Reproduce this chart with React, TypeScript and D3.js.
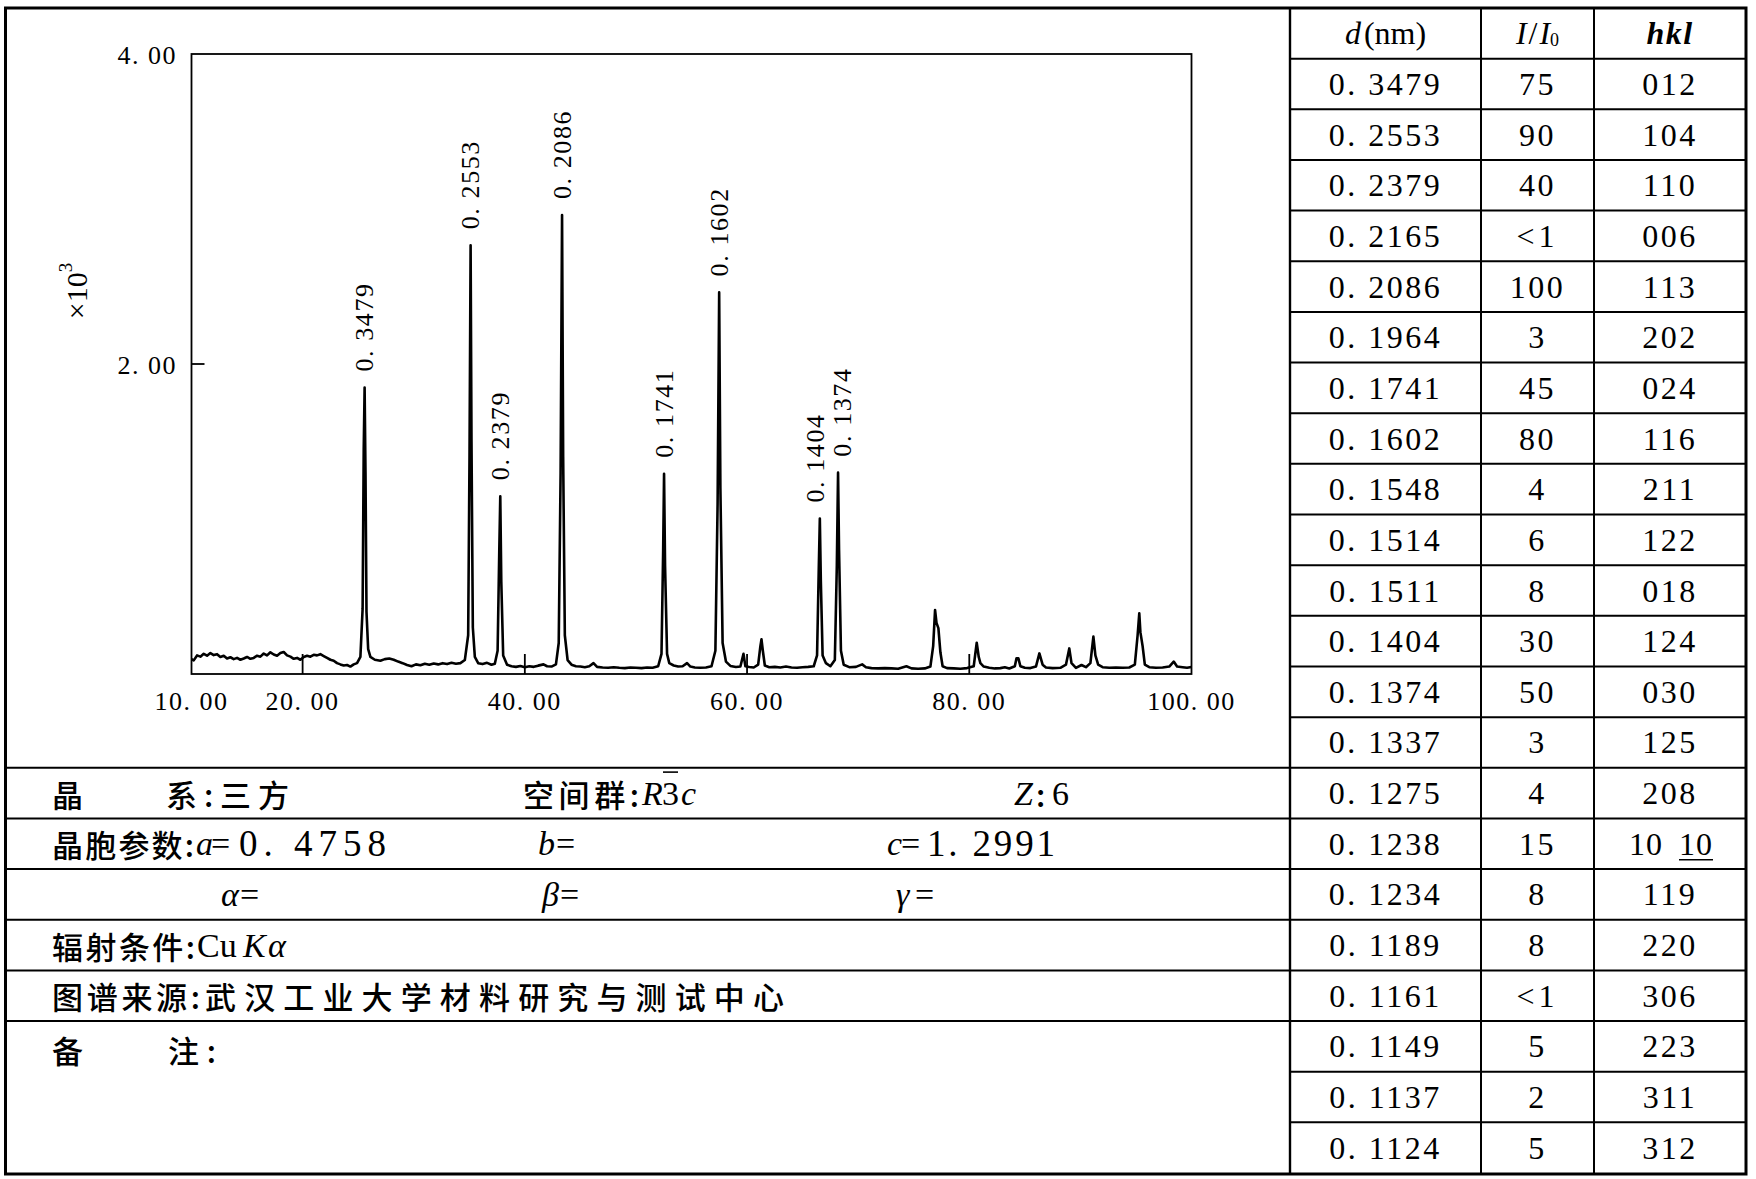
import React from "react";
import * as d3 from "d3";

// ---------- data ----------
const xTickValues = [10, 20, 40, 60, 80, 100];
const xTickLabels = ["10. 00", "20. 00", "40. 00", "60. 00", "80. 00", "100. 00"];
const xInnerTicks = [20, 40, 60, 80];
const yTickValues = [2000, 4000];
const yTickLabels = ["2. 00", "4. 00"];

const peakLabels = ["0. 3479", "0. 2553", "0. 2379", "0. 2086", "0. 1741", "0. 1602", "0. 1404", "0. 1374"];
const peakAngles = [25.58, 35.12, 37.79, 43.35, 52.53, 57.49, 66.55, 68.19];
const peakCounts = [1848, 2766, 1147, 2961, 1292, 2462, 1003, 1299];

// diffraction trace: [2theta, counts]
const pattern: [number, number][] = [
  [10.0, 95], [10.2, 88], [10.5, 120], [10.8, 112], [11.1, 130], [11.4, 118], [11.7, 135], [12.0, 122],
  [12.3, 128], [12.6, 110], [12.9, 118], [13.2, 100], [13.5, 108], [13.8, 96], [14.1, 104], [14.4, 92],
  [14.7, 100], [15.0, 110], [15.3, 98], [15.6, 104], [15.9, 118], [16.2, 112], [16.5, 132], [16.8, 120],
  [17.1, 140], [17.4, 126], [17.7, 118], [18.0, 135], [18.3, 142], [18.6, 120], [18.9, 112], [19.2, 98],
  [19.5, 104], [19.8, 92], [20.1, 110], [20.4, 118], [20.7, 112], [21.0, 124], [21.3, 120], [21.6, 128],
  [21.9, 116], [22.2, 104], [22.5, 92], [22.8, 86], [23.1, 70], [23.4, 62], [23.7, 55], [24.0, 58],
  [24.3, 48], [24.6, 62], [24.9, 70], [25.2, 110], [25.4, 420], [25.5, 1450], [25.58, 1848], [25.66, 1300],
  [25.75, 400], [25.9, 160], [26.1, 110], [26.5, 92], [27.0, 86], [27.4, 96], [27.8, 100], [28.2, 92],
  [28.6, 80], [29.0, 70], [29.4, 58], [29.8, 50], [30.2, 62], [30.6, 56], [31.0, 66], [31.4, 60],
  [31.8, 68], [32.2, 62], [32.6, 70], [33.0, 64], [33.4, 72], [33.8, 66], [34.2, 70], [34.6, 90],
  [34.9, 250], [35.02, 1400], [35.12, 2766], [35.2, 1500], [35.32, 300], [35.5, 110], [35.8, 70], [36.2, 64],
  [36.6, 72], [37.0, 60], [37.3, 66], [37.55, 150], [37.7, 800], [37.79, 1147], [37.88, 600], [38.05, 120],
  [38.4, 60], [38.8, 50], [39.2, 46], [39.6, 52], [40.0, 44], [40.4, 50], [40.8, 46], [41.2, 54],
  [41.68, 62], [42.0, 50], [42.4, 48], [42.8, 62], [43.05, 200], [43.22, 1300], [43.35, 2961], [43.45, 1400],
  [43.6, 250], [43.85, 90], [44.2, 60], [44.6, 50], [45.0, 48], [45.4, 44], [45.8, 50], [46.18, 70],
  [46.5, 46], [47.0, 42], [47.5, 40], [48.0, 44], [48.5, 40], [49.0, 38], [49.5, 42], [50.0, 40],
  [50.5, 38], [51.0, 42], [51.5, 40], [52.0, 50], [52.3, 130], [52.45, 800], [52.53, 1292], [52.62, 700],
  [52.8, 130], [53.0, 70], [53.4, 55], [53.8, 48], [54.2, 50], [54.6, 70], [54.9, 48], [55.3, 42],
  [55.8, 40], [56.3, 42], [56.8, 50], [57.15, 150], [57.35, 1100], [57.49, 2462], [57.6, 1200], [57.8, 200],
  [58.1, 80], [58.5, 52], [59.0, 45], [59.4, 48], [59.68, 130], [59.85, 50], [60.2, 45], [60.6, 42],
  [61.0, 60], [61.2, 180], [61.3, 224], [61.42, 150], [61.6, 55], [62.0, 44], [62.5, 46], [63.0, 42],
  [63.5, 48], [64.0, 42], [64.5, 40], [65.0, 44], [65.5, 46], [66.0, 50], [66.3, 120], [66.46, 700],
  [66.55, 1003], [66.64, 600], [66.8, 120], [67.1, 70], [67.5, 50], [67.9, 90], [68.08, 700], [68.19, 1299],
  [68.28, 800], [68.45, 150], [68.7, 60], [69.2, 44], [69.8, 46], [70.36, 62], [70.7, 44], [71.2, 38],
  [71.8, 36], [72.4, 38], [73.0, 36], [73.6, 34], [74.34, 50], [74.8, 36], [75.4, 34], [76.0, 36],
  [76.5, 48], [76.75, 180], [76.92, 413], [77.05, 330], [77.22, 296], [77.4, 140], [77.6, 50], [78.0, 38],
  [78.6, 36], [79.2, 34], [79.8, 38], [80.4, 50], [80.67, 202], [80.85, 110], [81.0, 70], [81.3, 48],
  [81.8, 40], [82.3, 36], [82.8, 38], [83.2, 44], [83.6, 36], [84.1, 50], [84.25, 101], [84.42, 101],
  [84.6, 50], [85.0, 40], [85.5, 38], [86.0, 48], [86.31, 133], [86.6, 60], [86.9, 42], [87.5, 38],
  [88.2, 40], [88.7, 60], [89.0, 165], [89.2, 70], [89.6, 40], [90.1, 58], [90.5, 44], [90.9, 70],
  [91.17, 241], [91.35, 120], [91.6, 60], [92.0, 44], [92.6, 40], [93.2, 42], [93.8, 40], [94.4, 42],
  [94.9, 60], [95.15, 250], [95.3, 391], [95.4, 270], [95.6, 180], [95.8, 60], [96.2, 44], [96.8, 40],
  [97.4, 42], [98.0, 48], [98.4, 80], [98.7, 48], [99.2, 44], [99.6, 40], [100.0, 45],
];

// table
const dSpacings = ["0. 3479", "0. 2553", "0. 2379", "0. 2165", "0. 2086", "0. 1964", "0. 1741", "0. 1602",
  "0. 1548", "0. 1514", "0. 1511", "0. 1404", "0. 1374", "0. 1337", "0. 1275", "0. 1238", "0. 1234",
  "0. 1189", "0. 1161", "0. 1149", "0. 1137", "0. 1124"];
const intensities = ["75", "90", "40", "<1", "100", "3", "45", "80", "4", "6", "8", "30", "50", "3", "4",
  "15", "8", "8", "<1", "5", "2", "5"];
const hklIndices = ["012", "104", "110", "006", "113", "202", "024", "116", "211", "122", "018", "124",
  "030", "125", "208", "10 10", "119", "220", "306", "223", "311", "312"];

const SERIF = "'Liberation Serif', 'Times New Roman', serif";
const CJK = "'Noto Sans CJK SC', 'Noto Sans CJK JP', sans-serif";

export default function App() {
  const W = 1756;
  const H = 1179;
  const x = d3.scaleLinear().domain([10, 100]).range([191.5, 1191.5]);
  const y = d3.scaleLinear().domain([0, 4000]).range([674, 54]);
  const line = d3.line<[number, number]>().x((d) => x(d[0])).y((d) => y(d[1]));

  const rowY = d3.scaleLinear().domain([0, 23]).range([8, 1173]);
  const tableLeft = 1290;
  const col1 = 1481;
  const col2 = 1594;
  const right = 1746;
  const outerLeft = 5.5;

  // label positions with small nudge for close neighbours
  const labelX = peakAngles.map((a) => x(a));
  for (let i = 0; i < labelX.length - 1; i++) {
    if (labelX[i + 1] - labelX[i] < 24) {
      labelX[i] -= 4.5;
      labelX[i + 1] += 4.5;
    }
  }

  const cjkText = (s: string, x0: number, yy: number, len?: number) => (
    <text x={x0} y={yy} fontFamily={CJK} fontSize={31} fontWeight={500} dominantBaseline="central"
      {...(len ? { textLength: len, lengthAdjust: "spacing" } : {})}>{s}</text>
  );
  const serifText = (s: string, x0: number, yy: number, italic = false, len?: number, size = 34) => (
    <text x={x0} y={yy} fontFamily={SERIF} fontSize={size} fontStyle={italic ? "italic" : "normal"}
      dominantBaseline="central" {...(len ? { textLength: len, lengthAdjust: "spacing" } : {})}>{s}</text>
  );

  const r1 = rowY(15.5), r2 = rowY(16.5), r3 = rowY(17.5), r4 = rowY(18.5), r5 = rowY(19.5);
  const r6 = rowY(20) + 28;

  return (
    <svg width={W} height={H} style={{ position: "absolute", left: 0, top: 0, background: "#fff" }}>
      <rect x={0} y={0} width={W} height={H} fill="#fff" />
      {/* outer frame */}
      <rect x={outerLeft} y={8} width={right - outerLeft} height={1166} fill="none" stroke="#000" strokeWidth={3} />

      {/* table grid */}
      <line x1={tableLeft} x2={tableLeft} y1={8} y2={1174} stroke="#000" strokeWidth={2.4} />
      <line x1={col1} x2={col1} y1={8} y2={1174} stroke="#000" strokeWidth={2} />
      <line x1={col2} x2={col2} y1={8} y2={1174} stroke="#000" strokeWidth={2} />
      {d3.range(1, 23).map((i) => (
        <line key={"h" + i} x1={tableLeft} x2={right} y1={rowY(i)} y2={rowY(i)} stroke="#000" strokeWidth={2} />
      ))}
      {d3.range(15, 21).map((i) => (
        <line key={"l" + i} x1={outerLeft} x2={tableLeft} y1={rowY(i)} y2={rowY(i)} stroke="#000" strokeWidth={2} />
      ))}

      {/* table header */}
      <text x={(tableLeft + col1) / 2} y={rowY(0.5)} textAnchor="middle" dominantBaseline="central"
        fontFamily={SERIF} fontSize={32}>
        <tspan fontStyle="italic">d</tspan><tspan dx={3}>(nm)</tspan>
      </text>
      <text x={(col1 + col2) / 2} y={rowY(0.5)} textAnchor="middle" dominantBaseline="central"
        fontFamily={SERIF} fontSize={32}>
        <tspan fontStyle="italic">I</tspan><tspan dx={2}>/</tspan><tspan fontStyle="italic" dx={2}>I</tspan>
        <tspan fontSize={18} dy={7}>0</tspan>
      </text>
      <text x={(col2 + right) / 2} y={rowY(0.5)} textAnchor="middle" dominantBaseline="central"
        fontFamily={SERIF} fontSize={32} fontStyle="italic" fontWeight="bold" letterSpacing={1.5}>hkl</text>

      {/* table body */}
      {dSpacings.map((d, j) => (
        <text key={"d" + j} x={(tableLeft + col1) / 2} y={rowY(j + 1.5)} textAnchor="middle"
          dominantBaseline="central" fontFamily={SERIF} fontSize={32} letterSpacing={2.5}>{d}</text>
      ))}
      {intensities.map((v, j) => (
        <text key={"i" + j} x={(col1 + col2) / 2} y={rowY(j + 1.5)} textAnchor="middle"
          dominantBaseline="central" fontFamily={SERIF} fontSize={32} letterSpacing={v.startsWith("<") ? 4 : 2.5}>{v}</text>
      ))}
      {hklIndices.map((h, j) => {
        const cx = (col2 + right) / 2;
        const cy = rowY(j + 1.5);
        if (h.includes(" ")) {
          const [a, b] = h.split(" ");
          return (
            <g key={"k" + j}>
              <text x={cx - 24} y={cy} textAnchor="middle" dominantBaseline="central" fontFamily={SERIF}
                fontSize={32} letterSpacing={1}>{a}</text>
              <text x={cx + 26} y={cy} textAnchor="middle" dominantBaseline="central" fontFamily={SERIF}
                fontSize={32} letterSpacing={1}>{b}</text>
              <line x1={cx + 9} x2={cx + 43} y1={cy + 16} y2={cy + 16} stroke="#000" strokeWidth={1.6} />
            </g>
          );
        }
        return (
          <text key={"k" + j} x={cx} y={cy} textAnchor="middle" dominantBaseline="central"
            fontFamily={SERIF} fontSize={32} letterSpacing={2.5}>{h}</text>
        );
      })}

      {/* chart frame */}
      <rect x={x(10)} y={y(4000)} width={x(100) - x(10)} height={y(0) - y(4000)} fill="none"
        stroke="#000" strokeWidth={1.8} />
      {xInnerTicks.map((t) => (
        <line key={"xt" + t} x1={x(t)} x2={x(t)} y1={y(0)} y2={y(0) - 20} stroke="#000" strokeWidth={1.8} />
      ))}
      <line x1={x(10)} x2={x(10) + 13} y1={y(2000)} y2={y(2000)} stroke="#000" strokeWidth={1.8} />
      {xTickValues.map((t, i) => (
        <text key={"xl" + t} x={x(t)} y={701} textAnchor="middle" dominantBaseline="central"
          fontFamily={SERIF} fontSize={26} letterSpacing={1.5}>{xTickLabels[i]}</text>
      ))}
      {yTickValues.map((t, i) => (
        <text key={"yl" + t} x={177} y={y(t) + 1} textAnchor="end" dominantBaseline="central"
          fontFamily={SERIF} fontSize={26} letterSpacing={1.5}>{yTickLabels[i]}</text>
      ))}
      <text transform="translate(76,291) rotate(-90)" textAnchor="middle" dominantBaseline="central"
        fontFamily={SERIF} fontSize={30}>
        ×10<tspan fontSize={19} dy={-11}>3</tspan>
      </text>

      {/* trace */}
      <path d={line(pattern) || ""} fill="none" stroke="#000" strokeWidth={2.6} strokeLinejoin="round" />

      {/* peak labels */}
      {peakLabels.map((lab, i) => (
        <text key={"pl" + i} transform={`translate(${labelX[i]},${y(peakCounts[i]) - 16}) rotate(-90)`}
          textAnchor="start" dominantBaseline="central" fontFamily={SERIF} fontSize={26}
          letterSpacing={1.6}>{lab}</text>
      ))}

      {/* info block */}
      {cjkText("晶", 52, r1)}
      {cjkText("系:三方", 166, r1, 123)}
      {cjkText("空间群:", 523, r1, 116)}
      {serifText("R", 642, r1, true)}
      {serifText("3", 662, r1)}
      <line x1={663} x2={678} y1={r1 - 21} y2={r1 - 21} stroke="#000" strokeWidth={1.6} />
      {serifText("c", 681, r1, true)}
      {serifText("Z", 1014, r1, true)}
      {cjkText(":", 1036, r1)}
      {serifText("6", 1052, r1)}

      {cjkText("晶胞参数:", 52, r2, 142)}
      {serifText("a", 196, r2, true)}
      {serifText("=", 211, r2)}
      {serifText("0. 4758", 239, r2, false, 147, 37)}
      {serifText("b", 538, r2, true)}
      {serifText("=", 556, r2)}
      {serifText("c", 887, r2, true)}
      {serifText("=", 901, r2)}
      {serifText("1. 2991", 927, r2, false, 128, 37)}

      {serifText("α", 221, r3, true)}
      {serifText("=", 240, r3)}
      {serifText("β", 542, r3, true)}
      {serifText("=", 560, r3)}
      {serifText("γ", 896, r3, true)}
      {serifText("=", 915, r3)}

      {cjkText("辐射条件:", 52, r4, 143)}
      {serifText("Cu", 197, r4)}
      {serifText("K", 243, r4, true)}
      {serifText("α", 268, r4, true)}

      {cjkText("图谱来源:", 52, r5, 148)}
      {cjkText("武汉工业大学材料研究与测试中心", 205, r5, 579)}

      {cjkText("备", 52, r6)}
      {cjkText("注:", 168, r6, 48)}
    </svg>
  );
}
